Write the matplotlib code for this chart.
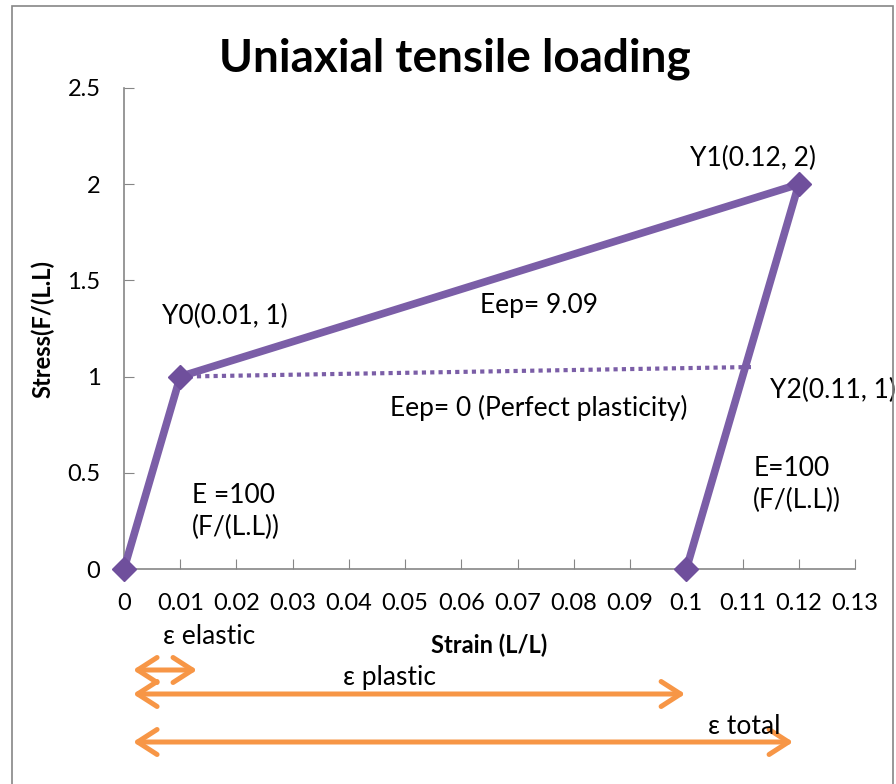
import matplotlib
matplotlib.use("Agg")
import matplotlib.pyplot as plt
from matplotlib.patches import Rectangle

plt.rcParams['font.family'] = ['Lato', 'DejaVu Sans']

# data
strain = [0, 0.01, 0.12, 0.1]
stress = [0, 1, 2, 0]
perfect_strain = [0.01, 0.112]
perfect_stress = [1, 1.05]
xticks = [0, 0.01, 0.02, 0.03, 0.04, 0.05, 0.06, 0.07, 0.08, 0.09, 0.1, 0.11, 0.12, 0.13]
xtick_labels = ["0", "0.01", "0.02", "0.03", "0.04", "0.05", "0.06", "0.07", "0.08",
                "0.09", "0.1", "0.11", "0.12", "0.13"]
yticks = [0, 0.5, 1, 1.5, 2, 2.5]
ytick_labels = ["0", "0.5", "1", "1.5", "2", "2.5"]

purple = "#7b5ea7"
orange = "#f79646"
grey = "#868686"

fig = plt.figure(figsize=(8.96, 7.84), dpi=100)
frame = Rectangle((12/896, -0.01), (893-12)/896, 1 - 6/784 + 0.01,
                  transform=fig.transFigure, fill=False,
                  edgecolor=grey, linewidth=1.2)
fig.patches.append(frame)
ax = fig.add_axes([124/896, 1 - 569/784, (855-124)/896, (569-88)/784])

ax.plot(perfect_strain, perfect_stress, color=purple, lw=3, linestyle=(0, (1, 1)),
        dash_capstyle='butt', zorder=2)
ax.plot(strain, stress, color=purple, lw=5.5, marker='D', markersize=12.5,
        markerfacecolor="#6f4f9c", markeredgecolor="#6f4f9c", zorder=3, clip_on=False)

ax.set_xlim(0, 0.13)
ax.set_ylim(0, 2.5)
ax.set_xticks(xticks)
ax.set_xticklabels(xtick_labels)
ax.set_yticks(yticks)
ax.set_yticklabels(ytick_labels)
ax.tick_params(direction='in', length=7, color=grey, labelsize=17, pad=17)
ax.tick_params(axis='y', pad=17)
for s in ['top', 'right']:
    ax.spines[s].set_visible(False)
for s in ['left', 'bottom']:
    ax.spines[s].set_color(grey)
    ax.spines[s].set_linewidth(1.2)

fig.text(455/896, 1 - 71/784, "Uniaxial tensile loading", fontsize=33, fontweight='bold',
         ha='center', va='baseline')
ax.set_xlabel("Strain (L/L)", fontsize=17, fontweight='bold', va='center')
ax.xaxis.set_label_coords(0.5, (569 - 645) / 481)
ax.set_ylabel("Stress(F/(L.L)", fontsize=17, fontweight='bold', va='center')
ax.yaxis.set_label_coords((43 - 124) / 731, 0.5)

fs = 19
ax.text(0.1007, 2.136, "Y1(0.12, 2)", fontsize=fs, ha='left', va='center')
ax.text(0.0068, 1.310, "Y0(0.01, 1)", fontsize=fs, ha='left', va='center')
ax.text(0.0633, 1.367, "Eep= 9.09", fontsize=fs, ha='left', va='center')
ax.text(0.0473, 0.837, "Eep= 0 (Perfect plasticity)", fontsize=fs, ha='left', va='center')
t = ax.text(0.1149, 0.930, "Y2(0.11, 1)", fontsize=fs, ha='left', va='center')
t.set_clip_path(frame)
ax.text(0.1119, 0.437, "E=100\n(F/(L.L))", fontsize=fs, ha='left', va='center', linespacing=1.35)
ax.text(0.0121, 0.301, "E =100\n(F/(L.L))", fontsize=fs, ha='left', va='center', linespacing=1.35)

# strain arrows below the axis
arrows = [(0.0016, 0.0130, 1 - 670/784), (0.0016, 0.0998, 1 - 694/784), (0.0016, 0.1190, 1 - 742/784)]
for x0, x1, yf in arrows:
    ax.annotate("", xy=(x1, yf), xytext=(x0, yf),
                xycoords=('data', 'figure fraction'), textcoords=('data', 'figure fraction'),
                arrowprops=dict(arrowstyle='<->, head_length=0.7, head_width=0.45',
                                color=orange, lw=3.6, mutation_scale=20,
                                shrinkA=0, shrinkB=0))
fig.text(163/896, 1 - 637/784, "ε elastic", fontsize=fs, ha='left', va='center')
fig.text(343/896, 1 - 678/784, "ε plastic", fontsize=fs, ha='left', va='center')
fig.text(708/896, 1 - 727/784, "ε total", fontsize=fs, ha='left', va='center')

fig.savefig("out.png", dpi=100)
